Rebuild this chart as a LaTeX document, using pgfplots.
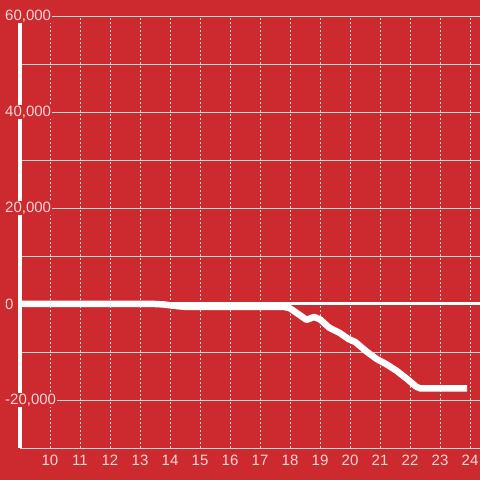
\documentclass[border=0pt]{standalone}
\usepackage{fontspec}
\setmainfont{Liberation Sans}
\usepackage{pgfplots}
\pgfplotsset{compat=1.18}
\definecolor{bgred}{RGB}{204,42,46}
\definecolor{lbl}{RGB}{244,214,214}
\definecolor{gridc}{RGB}{215,215,215}
\begin{document}
\begin{tikzpicture}
\fill[bgred] (0,0) rectangle (480bp,480bp);
\begin{axis}[
  at={(20bp,32bp)}, anchor=south west,
  scale only axis, width=460bp, height=432bp,
  xmin=9, xmax=24.333, ymin=-30000, ymax=60000,
  axis x line*=bottom, axis y line*=left,
  x axis line style={gridc, line width=0.8bp, -},
  y axis line style={white, line width=3bp, -},
  xtick={10,...,24},
  ytick={-20000,0,20000,40000,60000},
  yticklabels={-20{,}000,0,20{,}000,40{,}000,60{,}000},
  scaled y ticks=false,
  minor ytick={-30000,-10000,10000,30000,50000},
  grid=both,
  major grid style={gridc, line width=0.8bp},
  minor grid style={gridc, line width=0.8bp},
  x grid style={gridc, line width=0.8bp, dash pattern=on 2bp off 2bp},
  tick style={draw=none},
  tick label style={font=\fontsize{15bp}{17bp}\selectfont, text=lbl},
  xticklabel style={yshift=-4bp},
  yticklabel style={anchor=west, xshift=-16bp, fill=bgred, inner sep=1bp},
  /pgf/number format/assume math mode=true,
  extra y ticks={0}, extra y tick labels={},
  extra y tick style={grid=major, major grid style={white, line width=3bp}},
  clip=false,
]
\addplot[white, line width=6.5bp, line join=round] coordinates {
(9,0) (13.5,0) (13.8,-100) (14.1,-350) (14.5,-600) (17.8,-600)
(18.0,-900) (18.3,-2200) (18.55,-3300) (18.8,-2700) (19.0,-3200)
(19.3,-4900) (19.65,-6000) (19.95,-7300) (20.17,-7900) (20.55,-9900)
(20.9,-11500) (21.2,-12500) (21.55,-13900) (21.9,-15600) (22.2,-17200)
(22.35,-17600) (23.9,-17600)
};
\end{axis}
\pgfresetboundingbox
\path (0,0) rectangle (480bp,480bp);
\end{tikzpicture}
\end{document}
